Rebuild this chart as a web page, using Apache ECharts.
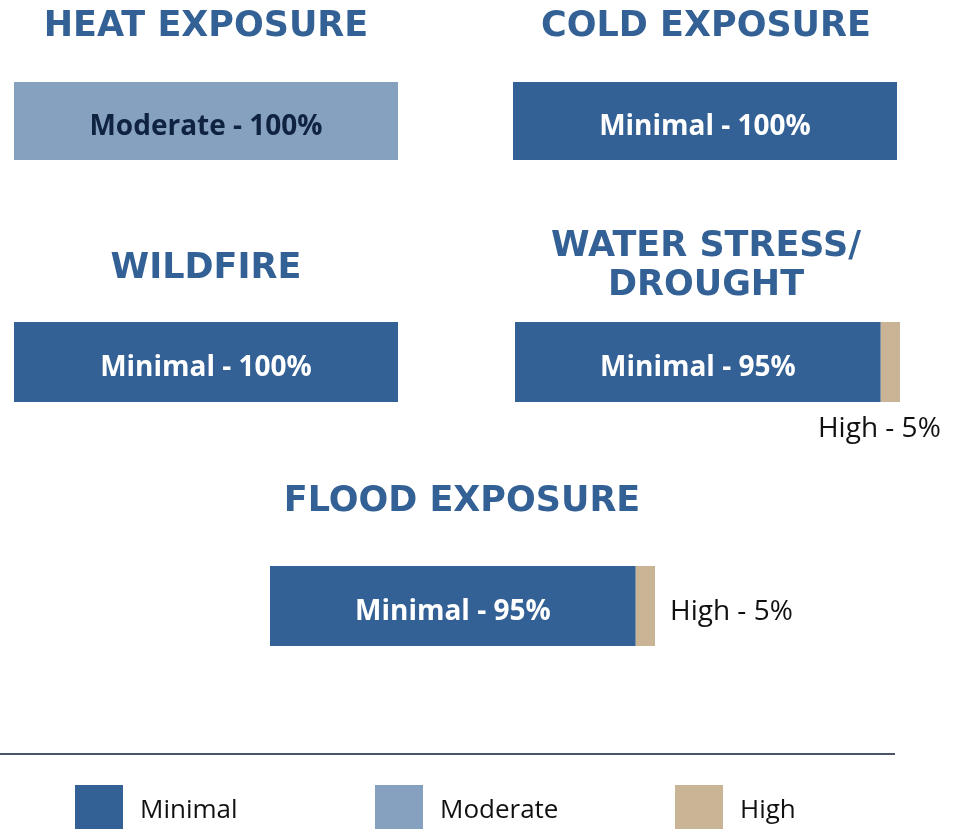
<!DOCTYPE html>
<html>
<head>
<meta charset="utf-8">
<script src="https://cdn.jsdelivr.net/npm/echarts@6/dist/echarts.min.js"></script>
<style>html,body{margin:0;padding:0;background:#fff}#c{width:976px;height:829px}</style>
</head>
<body>
<div id="c"></div>
<script>
const categories = ['Heat Exposure', 'Cold Exposure', 'Wildfire', 'Water Stress/Drought', 'Flood Exposure'];
const titles = ['HEAT EXPOSURE', 'COLD EXPOSURE', 'WILDFIRE', 'WATER STRESS/\nDROUGHT', 'FLOOD EXPOSURE'];
const levels = ['Minimal', 'Moderate', 'High'];
const minimal = [0, 100, 100, 95, 95];
const moderate = [100, 0, 0, 0, 0];
const high = [0, 0, 0, 5, 5];

const colors = { Minimal: '#336195', Moderate: '#86a1c0', High: '#c9b595' };
const labelColors = { Minimal: '#ffffff', Moderate: '#0f2340', High: '#111111' };
const valuesByLevel = { Minimal: minimal, Moderate: moderate, High: high };

const gridBoxes = [
  { left: 14, top: 82, width: 384, height: 78 },
  { left: 513, top: 82, width: 384, height: 78 },
  { left: 14, top: 322, width: 384, height: 80 },
  { left: 515, top: 322, width: 385, height: 80 },
  { left: 270, top: 566, width: 385, height: 80 }
];
const titlePos = [
  { left: 206, top: 7 },
  { left: 706, top: 7 },
  { left: 206, top: 249 },
  { left: 706, top: 227 },
  { left: 462, top: 482 }
];
const titleFont = { fontFamily: 'DejaVu Sans', fontWeight: 900, fontSize: 35, color: '#336195', lineHeight: 39 };

const grid = [], xAxis = [], yAxis = [], series = [];
categories.forEach((cat, i) => {
  grid.push(Object.assign({ containLabel: false }, gridBoxes[i]));
  xAxis.push({ gridIndex: i, type: 'value', min: 0, max: 100, show: false });
  yAxis.push({ gridIndex: i, type: 'category', data: [cat], show: false });
  levels.forEach(lv => {
    const v = valuesByLevel[lv][i];
    let label;
    if (lv === 'High') {
      label = i === 3
        ? { show: v > 0, position: 'bottom', distance: 8, offset: [-11, 5] }
        : { show: v > 0, position: 'right', distance: 15, offset: [0, 6] };
      label = Object.assign(label, { fontFamily: 'Open Sans', fontSize: 28, fontWeight: 'normal', color: labelColors[lv] });
    } else {
      label = { show: v > 0, position: 'inside', offset: [0, 6], fontFamily: 'Open Sans', fontSize: 28, fontWeight: 'bold', color: labelColors[lv] };
    }
    label.formatter = p => p.seriesName + ' - ' + p.value + '%';
    series.push({
      type: 'bar', name: lv, stack: 's' + i,
      xAxisIndex: i, yAxisIndex: i,
      barWidth: '100%',
      data: [v],
      itemStyle: { color: colors[lv] },
      label: label,
      silent: true
    });
  });
});

const legendLefts = [75, 375, 675];
const legend = levels.map((lv, k) => ({
  data: [lv], left: legendLefts[k], top: 785, orient: 'horizontal', padding: 0,
  icon: 'rect', itemWidth: 48, itemHeight: 52, selectedMode: false,
  textStyle: { fontFamily: 'Open Sans', fontSize: 26, color: '#111', padding: [0, 0, 0, 12] }
}));

const option = {
  animation: false,
  backgroundColor: '#ffffff',
  title: titles.map((t, i) => ({
    text: t, left: titlePos[i].left, top: titlePos[i].top, textAlign: 'center', padding: 0,
    textStyle: titleFont
  })),
  grid, xAxis, yAxis, series, legend,
  graphic: [{ type: 'line', shape: { x1: 0, y1: 754, x2: 895, y2: 754 }, style: { stroke: '#4a5468', lineWidth: 2 } }]
};
echarts.init(document.getElementById('c')).setOption(option);
</script>
</body>
</html>
